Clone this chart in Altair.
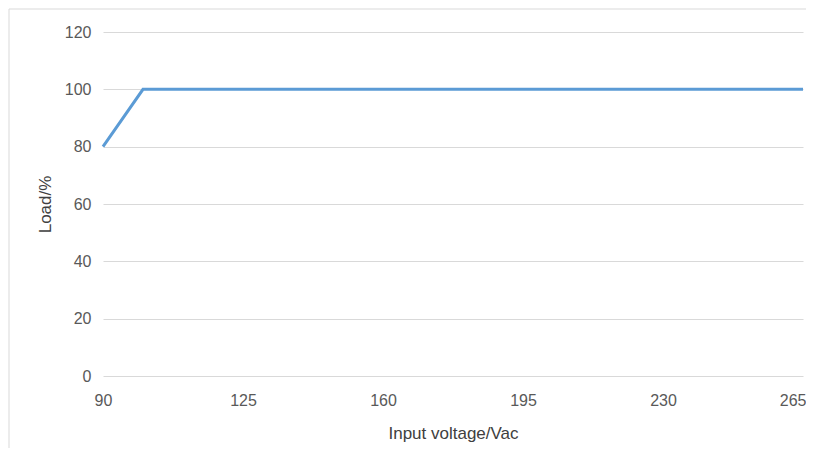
import altair as alt
import pandas as pd

voltage = [90, 100, 265]
load = [80, 100, 100]
x_ticks = [90, 125, 160, 195, 230, 265]
y_ticks = [0, 20, 40, 60, 80, 100, 120]

df = pd.DataFrame({"voltage": voltage, "load": load})

font = "Liberation Sans"

frame = alt.Chart(pd.DataFrame({"a": [0]})).mark_rect(
    fill=None, stroke="#d9d9d9", strokeWidth=1, clip=False
).encode(
    x=alt.value(-94), x2=alt.value(760), y=alt.value(-23), y2=alt.value(480)
)

line = alt.Chart(df).mark_line(color="#5b9bd5", strokeWidth=3).encode(
    x=alt.X("voltage:Q",
            scale=alt.Scale(domain=[90, 265], nice=False, zero=False),
            axis=alt.Axis(values=x_ticks, grid=False, domain=False, ticks=False,
                          labelPadding=16, title="Input voltage/Vac",
                          titlePadding=17, labelFlush=False,
                          labelAlign=alt.expr("datum.value == 265 ? 'right' : 'center'"),
                          labelOffset=alt.expr("datum.value == 265 ? 3 : 0"))),
    y=alt.Y("load:Q",
            scale=alt.Scale(domain=[0, 120], nice=False),
            axis=alt.Axis(values=y_ticks, grid=True, domain=False, ticks=False,
                          labelPadding=12, title="Load/%", titlePadding=10)),
)

chart = alt.layer(frame, line).properties(
    width=700, height=344,
    background="white",
    autosize=alt.AutoSizeParams(type="none"),
    padding={"left": 95, "top": 24, "right": 3, "bottom": 72},
).configure_view(stroke=None).configure_axis(
    labelFont=font, titleFont=font, labelFontSize=16, titleFontSize=17,
    labelColor="#595959", titleColor="#404040", titleFontWeight="normal",
    gridColor="#d9d9d9", gridWidth=1,
)

chart.save("out.html", embed_options={"renderer": "svg", "actions": False})
